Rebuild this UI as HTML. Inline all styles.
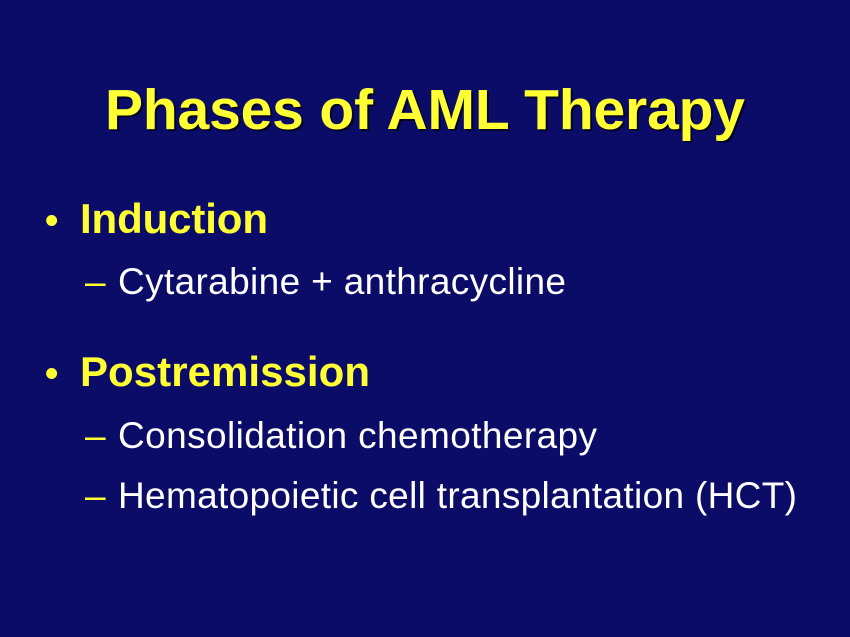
<!DOCTYPE html>
<html><head><meta charset="utf-8"><style>
html,body{margin:0;padding:0;background:#0b0b68;}
svg{display:block}
</style></head><body>
<svg width="850" height="637" xmlns="http://www.w3.org/2000/svg">
<rect width="850" height="637" fill="#0b0b68"/>
<g font-family="Liberation Sans, Arial, sans-serif">
<text x="107" y="131" font-size="57" font-weight="bold" fill="#000" opacity="0.6" textLength="640">Phases of AML Therapy</text>
<text x="105" y="129" font-size="57" font-weight="bold" fill="#ffff33" textLength="640">Phases of AML Therapy</text>
<text x="45" y="233" font-size="38" font-weight="bold" fill="#ffff33">•</text>
<text x="80" y="233" font-size="42" font-weight="bold" fill="#ffff33" textLength="188">Induction</text>
<text x="85" y="294" font-size="37" fill="#ffff33">–</text>
<text x="118" y="294" font-size="37" fill="#ffffff" textLength="448">Cytarabine + anthracycline</text>
<text x="45" y="386" font-size="38" font-weight="bold" fill="#ffff33">•</text>
<text x="80" y="386" font-size="42" font-weight="bold" fill="#ffff33" textLength="290">Postremission</text>
<text x="85" y="448" font-size="37" fill="#ffff33">–</text>
<text x="118" y="448" font-size="37" fill="#ffffff" textLength="479">Consolidation chemotherapy</text>
<text x="85" y="508" font-size="37" fill="#ffff33">–</text>
<text x="118" y="508" font-size="37" fill="#ffffff" textLength="679">Hematopoietic cell transplantation (HCT)</text>
</g>
</svg>
</body></html>
